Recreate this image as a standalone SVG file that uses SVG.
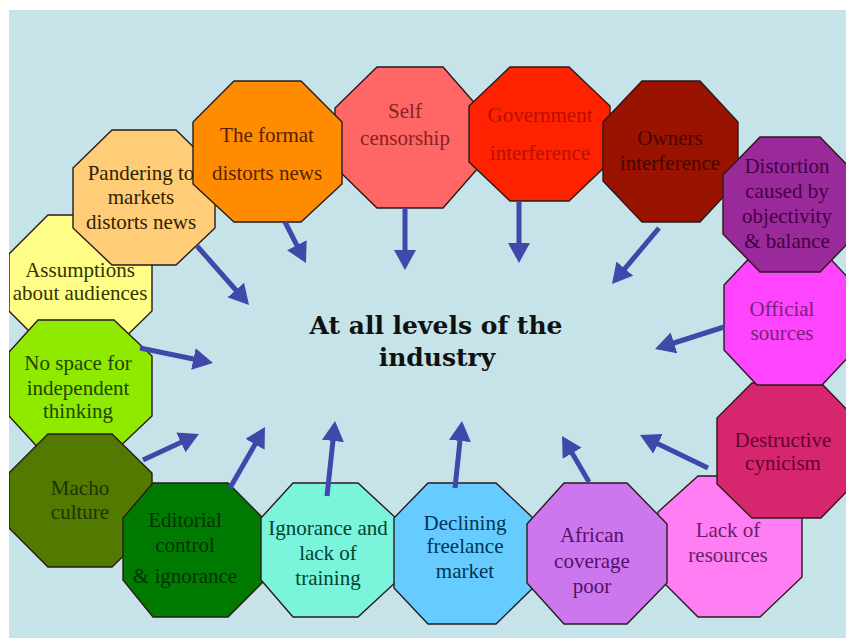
<svg xmlns="http://www.w3.org/2000/svg" width="846" height="638" viewBox="0 0 846 638">
  <defs>
    <marker id="head" viewBox="0 0 20 22" refX="10" refY="11" markerWidth="20" markerHeight="22" markerUnits="userSpaceOnUse" orient="auto">
      <path d="M0,0 L20,11 L0,22 z" fill="#4048AA"/>
    </marker>
    <clipPath id="panel">
      <rect x="9" y="10" width="837" height="628"/>
    </clipPath>
  </defs>
  <style>
    .oct { stroke: #2a1a1a; stroke-width: 1.4; stroke-linejoin: miter; }
    .lbl { font-family: "Liberation Serif", "Times New Roman", "DejaVu Serif", serif; font-size: 21px; text-anchor: middle; }
    .title { font-family: "DejaVu Serif", serif; font-weight: bold; font-size: 25px; text-anchor: middle; fill: #111; }
    .arrow { stroke: #4048AA; stroke-width: 5; fill: none; marker-end: url(#head); }
  </style>

  <rect width="846" height="638" fill="#ffffff"/>
  <rect x="9" y="10" width="837" height="628" fill="#C5E3E8"/>

  <g clip-path="url(#panel)">
    <g id="assumptions">
      <polygon class="oct" fill="#FFFF88" points="48,215 112,215 152,254 152,311 112,350 48,350 9,311 9,254"/>
      <text class="lbl" fill="#333300"><tspan x="80" y="277">Assumptions</tspan><tspan x="80" y="300">about audiences</tspan></text>
    </g>
    <g id="no-space">
      <polygon class="oct" fill="#8FEA00" points="38,320 114,320 152,356 152,416 114,452 42,452 9,416 9,352"/>
      <text class="lbl" fill="#224400"><tspan x="78" y="370">No space for</tspan><tspan x="78" y="395">independent</tspan><tspan x="78" y="418">thinking</tspan></text>
    </g>
    <g id="macho">
      <polygon class="oct" fill="#537A00" points="48,434 112,434 152,473 152,528 112,567 48,567 9,528 9,473"/>
      <text class="lbl" fill="#223300"><tspan x="80" y="495">Macho</tspan><tspan x="80" y="519">culture</tspan></text>
    </g>
    <g id="editorial">
      <polygon class="oct" fill="#007A00" points="153,483 228,483 265,520 265,580 228,617 153,617 123,580 123,518"/>
      <text class="lbl" fill="#003300"><tspan x="185" y="527">Editorial</tspan><tspan x="185" y="552">control</tspan><tspan x="185" y="583">&amp; ignorance</tspan></text>
    </g>
    <g id="ignorance">
      <polygon class="oct" fill="#7AF5DC" points="293,483 358,483 398,520 398,580 358,617 293,617 261,580 261,518"/>
      <text class="lbl" fill="#004433"><tspan x="328" y="535">Ignorance and</tspan><tspan x="328" y="560">lack of</tspan><tspan x="328" y="585">training</tspan></text>
    </g>
    <g id="declining">
      <polygon class="oct" fill="#66CCFF" points="428,483 496,483 533,518 533,588 496,624 428,624 394,588 394,518"/>
      <text class="lbl" fill="#003355"><tspan x="465" y="530">Declining</tspan><tspan x="465" y="553">freelance</tspan><tspan x="465" y="578">market</tspan></text>
    </g>
    <g id="lack">
      <polygon class="oct" fill="#FF7EF4" points="698,476 760,476 802,516 802,577 760,617 698,617 658,577 658,512"/>
      <text class="lbl" fill="#662266"><tspan x="728" y="537">Lack of</tspan><tspan x="728" y="562">resources</tspan></text>
    </g>
    <g id="african">
      <polygon class="oct" fill="#CC77EE" points="564,483 627,483 667,524 667,583 627,624 564,624 527,583 527,524"/>
      <text class="lbl" fill="#551166"><tspan x="592" y="542">African</tspan><tspan x="592" y="568">coverage</tspan><tspan x="592" y="593">poor</tspan></text>
    </g>
    <g id="destructive">
      <polygon class="oct" fill="#D6266E" points="752,383 821,383 856,419 856,482 821,518 752,518 717,484 717,418"/>
      <text class="lbl" fill="#660033"><tspan x="783" y="447">Destructive</tspan><tspan x="783" y="470">cynicism</tspan></text>
    </g>
    <g id="official">
      <polygon class="oct" fill="#FF44FF" points="757,250 822,250 855,285 855,350 822,385 757,385 724,350 724,285"/>
      <text class="lbl" fill="#772277"><tspan x="782" y="316">Official</tspan><tspan x="782" y="340">sources</tspan></text>
    </g>
    <g id="pandering">
      <polygon class="oct" fill="#FFCC77" points="112,130 176,130 215,168 215,228 176,265 112,265 73,228 73,168"/>
      <text class="lbl" fill="#332200"><tspan x="141" y="180">Pandering to</tspan><tspan x="141" y="204">markets</tspan><tspan x="141" y="229">distorts news</tspan></text>
    </g>
    <g id="self-censorship">
      <polygon class="oct" fill="#FF6666" points="377,67 443,67 479,108 479,167 443,208 377,208 335,167 335,108"/>
      <text class="lbl" fill="#882222"><tspan x="405" y="118">Self</tspan><tspan x="405" y="145">censorship</tspan></text>
    </g>
    <g id="government">
      <polygon class="oct" fill="#FF2200" points="510,67 569,67 610,106 610,162 569,201 510,201 469,162 469,106"/>
      <text class="lbl" fill="#B81000"><tspan x="540" y="122">Government</tspan><tspan x="540" y="160">interference</tspan></text>
    </g>
    <g id="format">
      <polygon class="oct" fill="#FF8C00" points="234,81 301,81 342,122 342,184 301,222 234,222 193,184 193,122"/>
      <text class="lbl" fill="#552200"><tspan x="267" y="142">The format</tspan><tspan x="267" y="180">distorts news</tspan></text>
    </g>
    <g id="owners">
      <polygon class="oct" fill="#9A1200" points="642,81 700,81 738,122 738,181 700,222 642,222 603,181 603,122"/>
      <text class="lbl" fill="#4A0400"><tspan x="670" y="145">Owners</tspan><tspan x="670" y="170">interference</tspan></text>
    </g>
    <g id="distortion">
      <polygon class="oct" fill="#9A2A9A" points="760,137 820,137 857,175 857,234 820,272 760,272 723,234 723,175"/>
      <text class="lbl" fill="#440044"><tspan x="787" y="173">Distortion</tspan><tspan x="787" y="198">caused by</tspan><tspan x="787" y="223">objectivity</tspan><tspan x="787" y="248">&amp; balance</tspan></text>
    </g>
  </g>

  <g id="center">
    <text class="title"><tspan x="436" y="334">At all levels of the</tspan><tspan x="437" y="366">industry</tspan></text>
  </g>

  <g id="connectors">
    <line class="arrow" x1="197" y1="246" x2="242.4" y2="297.5"/>
    <line class="arrow" x1="285" y1="222" x2="301.4" y2="254.1"/>
    <line class="arrow" x1="405" y1="208" x2="405" y2="260"/>
    <line class="arrow" x1="519" y1="201" x2="519" y2="253"/>
    <line class="arrow" x1="659" y1="228" x2="618.4" y2="276.3"/>
    <line class="arrow" x1="724" y1="327" x2="664.5" y2="346"/>
    <line class="arrow" x1="708" y1="468" x2="649" y2="439.4"/>
    <line class="arrow" x1="589" y1="482" x2="567.1" y2="444.6"/>
    <line class="arrow" x1="455" y1="488" x2="461" y2="431"/>
    <line class="arrow" x1="327" y1="496" x2="334" y2="431"/>
    <line class="arrow" x1="230" y1="488" x2="260" y2="435.7"/>
    <line class="arrow" x1="143" y1="460" x2="189.9" y2="438.2"/>
    <line class="arrow" x1="140" y1="348" x2="203.2" y2="361"/>
  </g>
</svg>
